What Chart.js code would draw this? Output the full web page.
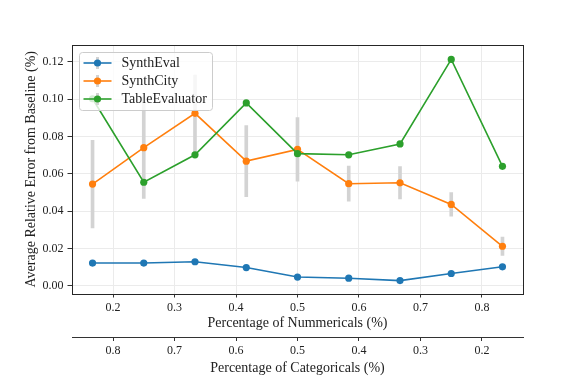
<!DOCTYPE html>
<html>
<head>
<meta charset="utf-8">
<script src="https://cdn.jsdelivr.net/npm/chart.js@4.4.1/dist/chart.umd.min.js"></script>
<style>
  html, body { margin: 0; padding: 0; background: #fff; }
  #wrap { width: 581px; height: 381px; }
</style>
</head>
<body>
<div id="wrap"><canvas id="grafico" width="581" height="381"></canvas></div>
<script>
// dados
const numericals = [0.1667, 0.25, 0.3333, 0.4167, 0.5, 0.5833, 0.6667, 0.75, 0.8333];
const synthEval = [0.0122, 0.0122, 0.0129, 0.0098, 0.0047, 0.0041, 0.0028, 0.0066, 0.0102];
const synthCity = [0.0545, 0.0740, 0.0924, 0.0668, 0.0731, 0.0547, 0.0552, 0.0436, 0.0212];
const synthCityErr = [0.0235, 0.0272, 0.0205, 0.0190, 0.0170, 0.0094, 0.0087, 0.0063, 0.0049];
const tableEvaluator = [0.1002, 0.0555, 0.0702, 0.0980, 0.0708, 0.0702, 0.0760, 0.1213, 0.0640];

const seriesNames = ['SynthEval', 'SynthCity', 'TableEvaluator'];
const seriesColors = ['#1f77b4', '#ff7f0e', '#2ca02c'];

const numTicks = [0.2, 0.3, 0.4, 0.5, 0.6, 0.7, 0.8];
const catTicks = [0.8, 0.7, 0.6, 0.5, 0.4, 0.3, 0.2];
const yTicks = [0, 0.02, 0.04, 0.06, 0.08, 0.10, 0.12];

const xMin = 0.1333, xMax = 0.8667;
const yMin = -0.0041, yMax = 0.129;

const FONT = "'Liberation Serif', 'Times New Roman', serif";
const errColor = '#d3d3d3';
const textoFonte = { family: FONT, size: 14 };

Chart.defaults.font.family = FONT;
Chart.defaults.font.size = 12;
Chart.defaults.color = '#222';

function pontos(vals) {
    return numericals.map((x, i) => ({ x, y: vals[i] }));
}

function serie(idx, vals, order) {
    return {
        type: 'line',
        label: seriesNames[idx],
        data: pontos(vals),
        borderColor: seriesColors[idx],
        backgroundColor: seriesColors[idx],
        borderWidth: 1.6,
        pointRadius: 3.6,
        pointHoverRadius: 3.6,
        pointBorderWidth: 0,
        tension: 0,
        order
    };
}

// legenda desenhada dentro da área do gráfico (como no matplotlib)
const legendaInterna = {
    id: 'legendaInterna',
    afterDraw(chart) {
        const { ctx, chartArea } = chart;
        const x0 = chartArea.left + 7.5, y0 = chartArea.top + 7.5;
        const w = 133, h = 58;
        ctx.save();
        ctx.beginPath();
        ctx.roundRect(x0, y0, w, h, 3);
        ctx.fillStyle = 'rgba(255,255,255,0.8)';
        ctx.fill();
        ctx.strokeStyle = '#cccccc';
        ctx.lineWidth = 1;
        ctx.stroke();
        ctx.font = '14px ' + FONT;
        ctx.textBaseline = 'middle';
        seriesNames.forEach((nome, i) => {
            const y = y0 + 10.5 + i * 18;
            const mx = x0 + 18;
            ctx.strokeStyle = errColor;
            ctx.lineWidth = 3;
            ctx.beginPath();
            ctx.moveTo(mx, y - 6);
            ctx.lineTo(mx, y + 6);
            ctx.stroke();
            ctx.strokeStyle = seriesColors[i];
            ctx.lineWidth = 1.6;
            ctx.beginPath();
            ctx.moveTo(x0 + 4, y);
            ctx.lineTo(x0 + 32, y);
            ctx.stroke();
            ctx.fillStyle = seriesColors[i];
            ctx.beginPath();
            ctx.arc(mx, y, 3.6, 0, Math.PI * 2);
            ctx.fill();
            ctx.fillStyle = '#222';
            ctx.fillText(nome, x0 + 42, y + 0.5);
        });
        ctx.restore();
    }
};

// moldura completa do eixo
const moldura = {
    id: 'moldura',
    afterDatasetsDraw(chart) {
        const { ctx, chartArea: a } = chart;
        ctx.save();
        ctx.strokeStyle = '#262626';
        ctx.lineWidth = 1;
        ctx.strokeRect(Math.round(a.left) + 0.5, Math.round(a.top) + 0.5,
            Math.round(a.right - a.left), Math.round(a.bottom - a.top));
        ctx.restore();
    }
};

const ctx = document.getElementById('grafico').getContext('2d');
new Chart(ctx, {
    type: 'line',
    data: {
        datasets: [
            serie(0, synthEval, 3),
            serie(1, synthCity, 2),
            serie(2, tableEvaluator, 1),
            {
                type: 'bar',
                label: 'erro',
                data: numericals.map((x, i) => ({ x, y: [synthCity[i] - synthCityErr[i], synthCity[i] + synthCityErr[i]] })),
                backgroundColor: errColor,
                barThickness: 3,
                borderWidth: 0,
                order: 10
            }
        ]
    },
    options: {
        responsive: false,
        devicePixelRatio: 1,
        animation: false,
        layout: { padding: { left: 0, right: 58, top: 45, bottom: 0 } },
        plugins: {
            legend: { display: false },
            tooltip: { enabled: false }
        },
        scales: {
            x: {
                type: 'linear',
                position: 'bottom',
                weight: 0,
                min: xMin,
                max: xMax,
                offset: false,
                afterBuildTicks: s => { s.ticks = numTicks.map(v => ({ value: v })); },
                afterFit: s => { s.height = 44; },
                ticks: { padding: 3, callback: v => v.toFixed(1), maxRotation: 0 },
                grid: { color: '#ebebeb', tickColor: '#333', tickLength: 4, offset: false },
                border: { display: false },
                title: { display: true, text: 'Percentage of Nummericals (%)', font: textoFonte, padding: { top: 0, bottom: 6 } }
            },
            x2: {
                type: 'linear',
                position: 'bottom',
                weight: 1,
                reverse: true,
                min: 1 - xMax,
                max: 1 - xMin,
                afterBuildTicks: s => { s.ticks = catTicks.map(v => ({ value: v })); },
                afterFit: s => { s.height = 43.5; },
                ticks: { padding: 2.5, callback: v => v.toFixed(1), maxRotation: 0 },
                grid: { drawOnChartArea: false, tickColor: '#333', tickLength: 3.5 },
                border: { display: true, color: '#333', width: 1 },
                title: { display: true, text: 'Percentage of Categoricals (%)', font: textoFonte, padding: { top: 0, bottom: 4.5 } }
            },
            y: {
                type: 'linear',
                position: 'left',
                min: yMin,
                max: yMax,
                afterBuildTicks: s => { s.ticks = yTicks.map(v => ({ value: v })); },
                afterFit: s => { s.width = 72; },
                ticks: { padding: 4, callback: v => v.toFixed(2) },
                grid: { color: '#ebebeb', tickColor: '#333', tickLength: 4.5 },
                border: { display: false },
                title: { display: true, text: 'Average Relative Error from Baseline (%)', font: textoFonte, padding: { top: 22.5, bottom: 0 } }
            }
        }
    },
    plugins: [moldura, legendaInterna]
});
</script>
</body>
</html>
